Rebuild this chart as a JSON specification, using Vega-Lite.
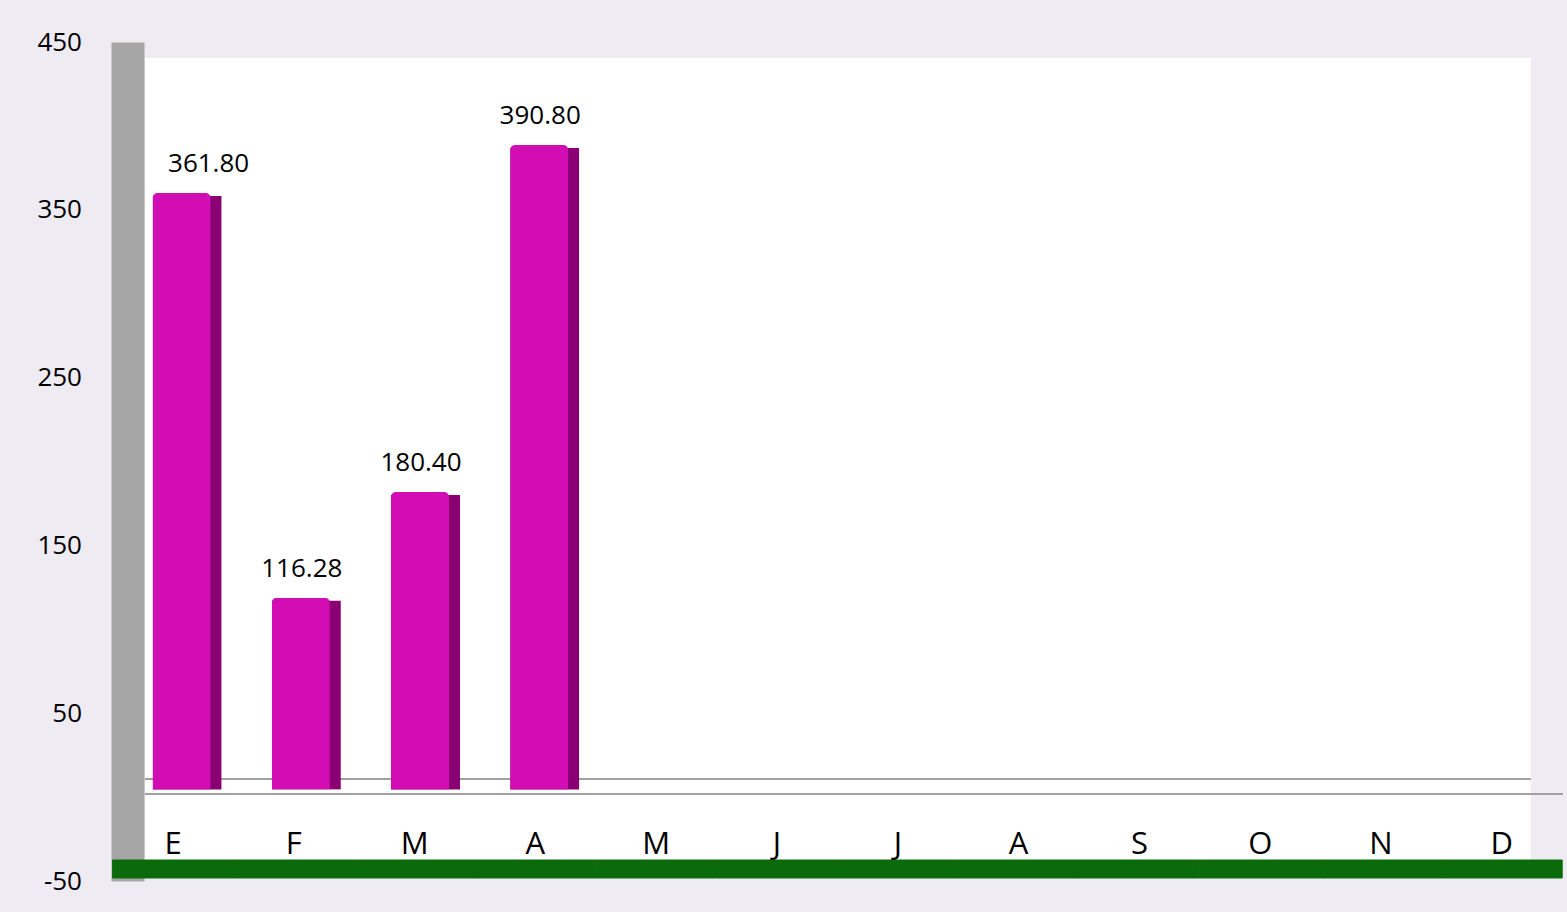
{
  "$schema": "https://vega.github.io/schema/vega-lite/v6.json",
  "width": 1386,
  "height": 802,
  "autosize": {"type": "none"},
  "padding": {"left": 145, "top": 58, "right": 36, "bottom": 52},
  "background": "#eeebf2",
  "config": {"view": {"fill": "#ffffff", "stroke": null}, "font": "Open Sans"},
  "data": {"values": [
    {"mes": "Enero", "valor": 361.8},
    {"mes": "Febrero", "valor": 116.28},
    {"mes": "Marzo", "valor": 180.4},
    {"mes": "Abril", "valor": 390.8},
    {"mes": "Mayo", "valor": null},
    {"mes": "Junio", "valor": null},
    {"mes": "Julio", "valor": null},
    {"mes": "Agosto", "valor": null},
    {"mes": "Septiembre", "valor": null},
    {"mes": "Octubre", "valor": null},
    {"mes": "Noviembre", "valor": null},
    {"mes": "Diciembre", "valor": null}
  ]},
  "layer": [
    {
      "layer": [
        {
          "mark": {"type": "rect", "color": "#0b6b0b", "stroke": "#0b6b0b", "strokeWidth": 1},
          "encoding": {
            "x": {
              "field": "mes", "type": "nominal",
              "scale": {"domain": ["Enero","Febrero","Marzo","Abril","Mayo","Junio","Julio","Agosto","Septiembre","Octubre","Noviembre","Diciembre"], "range": [-32.4, 1417.2], "paddingInner": 0, "paddingOuter": 0},
              "axis": {"labelExpr": "substring(datum.label, 0, 1)", "labelAngle": 0, "labelFontSize": 31, "labelColor": "#000000", "labelPadding": -7, "labelBaseline": "alphabetic", "ticks": false, "tickSize": 0, "domain": false, "title": null, "grid": false}
            },
            "y": {
              "datum": -37.5, "type": "quantitative",
              "scale": {"domain": [-50, 450], "range": [823, -16], "nice": false, "zero": false},
              "axis": {"values": [-50, 50, 150, 250, 350, 450], "labelExpr": "datum.value < 0 ? '-' + abs(datum.value) : '' + datum.value", "offset": 17.5, "domainWidth": 33, "domainColor": "#a6a6a6", "ticks": false, "tickSize": 0, "labelPadding": 46, "labelFontSize": 26, "labelColor": "#000000", "grid": false, "title": null}
            },
            "y2": {"datum": -48.2}
          }
        },
        {
          "data": {"values": [{"z": 0}]},
          "mark": {"type": "rule", "color": "#a0a0a0", "strokeWidth": 2, "yOffset": -3, "xOffset": 32, "x2Offset": -33},
          "encoding": {"y": {"field": "z", "type": "quantitative"}}
        },
        {
          "data": {"values": [{"z": 0}]},
          "mark": {"type": "rule", "color": "#a0a0a0", "strokeWidth": 2, "yOffset": -18},
          "encoding": {"y": {"field": "z", "type": "quantitative"}}
        }
      ]
    },
    {
      "layer": [
        {
          "mark": {"type": "bar", "color": "#8a0072", "xOffset": 5.5, "yOffset": 3, "y2Offset": -3, "width": {"band": 0.58}, "cornerRadiusTopRight": 3},
          "encoding": {
            "x": {
              "field": "mes", "type": "nominal",
              "scale": {"domain": ["Enero","Febrero","Marzo","Abril","Mayo","Junio","Julio","Agosto","Septiembre","Octubre","Noviembre","Diciembre"], "range": [-23, 1407.4], "paddingInner": 0, "paddingOuter": 0},
              "axis": null
            },
            "y": {
              "field": "valor", "type": "quantitative",
              "scale": {"domain": [0, 400], "range": [731.5, 71.9], "nice": false, "zero": false},
              "axis": null
            }
          }
        },
        {
          "mark": {"type": "bar", "color": "#d10db3", "width": {"band": 0.487}, "cornerRadiusTopLeft": 5, "cornerRadiusTopRight": 5},
          "encoding": {
            "x": {"field": "mes", "type": "nominal", "axis": null},
            "y": {"field": "valor", "type": "quantitative", "axis": null}
          }
        },
        {
          "mark": {"type": "text", "fontSize": 26, "baseline": "middle", "dy": -29, "dx": {"expr": "datum.mes === 'Enero' ? 27 : 1"}, "color": "#000000"},
          "encoding": {
            "x": {"field": "mes", "type": "nominal", "axis": null},
            "y": {"field": "valor", "type": "quantitative", "axis": null},
            "text": {"field": "valor", "type": "quantitative", "format": ".2f"}
          }
        }
      ]
    }
  ],
  "resolve": {"scale": {"x": "independent", "y": "independent"}}
}
